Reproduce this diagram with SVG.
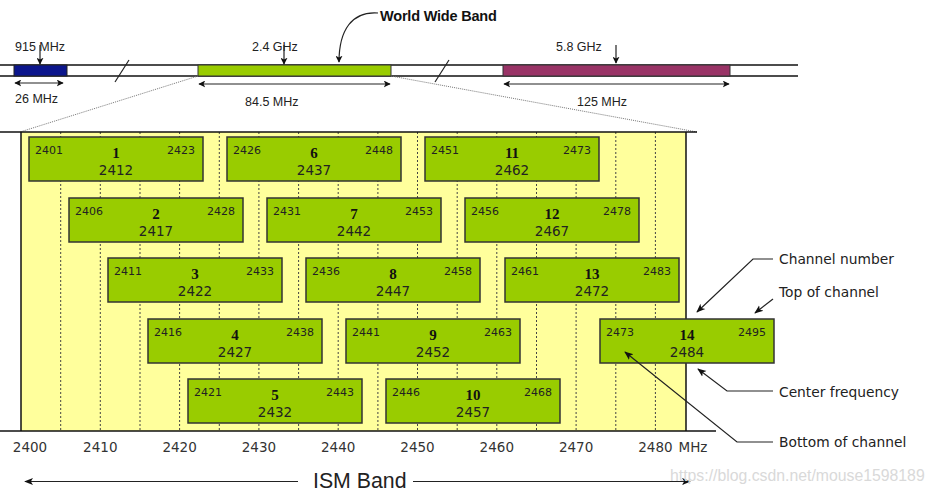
<svg xmlns="http://www.w3.org/2000/svg" width="934" height="492" viewBox="0 0 934 492">
<defs>
<marker id="ah" viewBox="0 0 10 10" refX="9" refY="5" markerWidth="7" markerHeight="7" orient="auto-start-reverse" markerUnits="userSpaceOnUse">
<path d="M0,0 L10,5 L0,10 L2.5,5 z" fill="#111"/>
</marker>
<marker id="ah2" viewBox="0 0 10 10" refX="9" refY="5" markerWidth="9" markerHeight="9" orient="auto-start-reverse" markerUnits="userSpaceOnUse">
<path d="M0,1 L10,5 L0,9 L2.5,5 z" fill="#111"/>
</marker>
<style>
.ln{stroke:#111;stroke-width:1.5;fill:none}
.thin{stroke:#222;stroke-width:1.2;fill:none}
.dot{stroke:#444;stroke-width:1;stroke-dasharray:2,2;fill:none}
.dz{stroke:#777;stroke-width:1;stroke-dasharray:1,1;fill:none}
.box{fill:#99cc00;stroke:#333;stroke-width:1.5}
.sm{font-family:"DejaVu Sans",Verdana,sans-serif;font-size:11px;fill:#222}
.num{font-family:"Liberation Serif","Times New Roman",serif;font-size:15px;font-weight:bold;fill:#111;text-anchor:middle}
.cf{font-family:"DejaVu Sans",Verdana,sans-serif;font-size:13.5px;fill:#222;text-anchor:middle}
.ax{font-family:"DejaVu Sans",Verdana,sans-serif;font-size:13.5px;fill:#333;text-anchor:middle}
.lab{font-family:"Liberation Sans",Arial,sans-serif;font-size:12.5px;fill:#222}
.ann{font-family:"DejaVu Sans",Verdana,sans-serif;font-size:13.8px;fill:#222}
.end{text-anchor:end}
</style>
</defs>
<rect width="934" height="492" fill="#fff"/>

<!-- top spectrum band -->
<g id="spectrum">
<line class="ln" x1="0" y1="65" x2="798" y2="65"/>
<line class="ln" x1="0" y1="76" x2="798" y2="76"/>
<rect x="14" y="65" width="53" height="11" fill="#0c168c" stroke="#222" stroke-width="1"/>
<rect x="198" y="65" width="193" height="11" fill="#99cc00" stroke="#333" stroke-width="1"/>
<rect x="503" y="65" width="227" height="11" fill="#993366" stroke="#333" stroke-width="1"/>
<line class="thin" x1="129" y1="60" x2="115" y2="82"/>
<line class="thin" x1="449" y1="60" x2="435" y2="82"/>
</g>

<g id="label-915">
<text class="lab" x="15" y="51">915 MHz</text>
<line class="thin" x1="40" y1="45" x2="40" y2="64" marker-end="url(#ah)"/>
<line class="thin" x1="15" y1="83" x2="63" y2="83" marker-start="url(#ah)" marker-end="url(#ah)"/>
<text class="lab" x="15" y="103">26 MHz</text>
</g>
<g id="label-24">
<text class="lab" x="252" y="51">2.4 GHz</text>
<line class="thin" x1="284" y1="45" x2="284" y2="64" marker-end="url(#ah)"/>
<line class="thin" x1="199" y1="84" x2="390" y2="84" marker-start="url(#ah)" marker-end="url(#ah)"/>
<text class="lab" x="245" y="106">84.5 MHz</text>
</g>
<g id="label-58">
<text class="lab" x="556" y="51">5.8 GHz</text>
<line class="thin" x1="616" y1="45" x2="616" y2="63" marker-end="url(#ah)"/>
<line class="thin" x1="504" y1="84" x2="729" y2="84" marker-start="url(#ah)" marker-end="url(#ah)"/>
<text class="lab" x="577" y="106">125 MHz</text>
</g>
<g id="world-wide-band">
<text x="380" y="21" font-family="'Liberation Sans',Arial,sans-serif" font-size="14.5px" font-weight="bold" fill="#111" letter-spacing="-0.2">World Wide Band</text>
<path class="thin" d="M378,13 C352,11 339,30 339,62" marker-end="url(#ah)"/>
</g>

<!-- zoom lines -->
<g id="zoom-lines">
<line class="dz" x1="198" y1="76" x2="20" y2="132"/>
<line class="dz" x1="391" y1="76" x2="697" y2="132"/>
</g>

<!-- ISM area -->
<g id="ism-area">
<rect x="21" y="132" width="665" height="299" fill="#ffff9c"/>
<g class="dot">
<line x1="60.7" y1="132" x2="60.7" y2="431"/>
<line x1="100.3" y1="132" x2="100.3" y2="431"/>
<line x1="140" y1="132" x2="140" y2="431"/>
<line x1="179.6" y1="132" x2="179.6" y2="431"/>
<line x1="219.3" y1="132" x2="219.3" y2="431"/>
<line x1="258.9" y1="132" x2="258.9" y2="431"/>
<line x1="298.6" y1="132" x2="298.6" y2="431"/>
<line x1="338.2" y1="132" x2="338.2" y2="431"/>
<line x1="377.9" y1="132" x2="377.9" y2="431"/>
<line x1="417.5" y1="132" x2="417.5" y2="431"/>
<line x1="457.2" y1="132" x2="457.2" y2="431"/>
<line x1="496.8" y1="132" x2="496.8" y2="431"/>
<line x1="536.5" y1="132" x2="536.5" y2="431"/>
<line x1="576.1" y1="132" x2="576.1" y2="431"/>
<line x1="615.8" y1="132" x2="615.8" y2="431"/>
<line x1="655.4" y1="132" x2="655.4" y2="431"/>
</g>
<line class="ln" x1="0" y1="132" x2="697" y2="132"/>
<line class="ln" x1="21" y1="132" x2="21" y2="431"/>
<line class="ln" x1="686" y1="132" x2="686" y2="431"/>
<line class="ln" x1="0" y1="431" x2="716" y2="431"/>
</g>

<!-- channels -->
<g id="ch1" transform="translate(29,137)"><rect class="box" width="174" height="44"/><text class="sm" x="6" y="17">2401</text><text class="sm end" x="166" y="17">2423</text><text class="num" x="87" y="21">1</text><text class="cf" x="87" y="38">2412</text></g>
<g id="ch2" transform="translate(69,198)"><rect class="box" width="174" height="44"/><text class="sm" x="6" y="17">2406</text><text class="sm end" x="166" y="17">2428</text><text class="num" x="87" y="21">2</text><text class="cf" x="87" y="38">2417</text></g>
<g id="ch3" transform="translate(108,258)"><rect class="box" width="174" height="44"/><text class="sm" x="6" y="17">2411</text><text class="sm end" x="166" y="17">2433</text><text class="num" x="87" y="21">3</text><text class="cf" x="87" y="38">2422</text></g>
<g id="ch4" transform="translate(148,319)"><rect class="box" width="174" height="44"/><text class="sm" x="6" y="17">2416</text><text class="sm end" x="166" y="17">2438</text><text class="num" x="87" y="21">4</text><text class="cf" x="87" y="38">2427</text></g>
<g id="ch5" transform="translate(188,379)"><rect class="box" width="174" height="44"/><text class="sm" x="6" y="17">2421</text><text class="sm end" x="166" y="17">2443</text><text class="num" x="87" y="21">5</text><text class="cf" x="87" y="38">2432</text></g>
<g id="ch6" transform="translate(227,137)"><rect class="box" width="174" height="44"/><text class="sm" x="6" y="17">2426</text><text class="sm end" x="166" y="17">2448</text><text class="num" x="87" y="21">6</text><text class="cf" x="87" y="38">2437</text></g>
<g id="ch7" transform="translate(267,198)"><rect class="box" width="174" height="44"/><text class="sm" x="6" y="17">2431</text><text class="sm end" x="166" y="17">2453</text><text class="num" x="87" y="21">7</text><text class="cf" x="87" y="38">2442</text></g>
<g id="ch8" transform="translate(306,258)"><rect class="box" width="174" height="44"/><text class="sm" x="6" y="17">2436</text><text class="sm end" x="166" y="17">2458</text><text class="num" x="87" y="21">8</text><text class="cf" x="87" y="38">2447</text></g>
<g id="ch9" transform="translate(346,319)"><rect class="box" width="174" height="44"/><text class="sm" x="6" y="17">2441</text><text class="sm end" x="166" y="17">2463</text><text class="num" x="87" y="21">9</text><text class="cf" x="87" y="38">2452</text></g>
<g id="ch10" transform="translate(386,379)"><rect class="box" width="174" height="44"/><text class="sm" x="6" y="17">2446</text><text class="sm end" x="166" y="17">2468</text><text class="num" x="87" y="21">10</text><text class="cf" x="87" y="38">2457</text></g>
<g id="ch11" transform="translate(425,137)"><rect class="box" width="174" height="44"/><text class="sm" x="6" y="17">2451</text><text class="sm end" x="166" y="17">2473</text><text class="num" x="87" y="21">11</text><text class="cf" x="87" y="38">2462</text></g>
<g id="ch12" transform="translate(465,198)"><rect class="box" width="174" height="44"/><text class="sm" x="6" y="17">2456</text><text class="sm end" x="166" y="17">2478</text><text class="num" x="87" y="21">12</text><text class="cf" x="87" y="38">2467</text></g>
<g id="ch13" transform="translate(505,258)"><rect class="box" width="174" height="44"/><text class="sm" x="6" y="17">2461</text><text class="sm end" x="166" y="17">2483</text><text class="num" x="87" y="21">13</text><text class="cf" x="87" y="38">2472</text></g>
<g id="ch14" transform="translate(600,319)"><rect class="box" width="174" height="44"/><text class="sm" x="6" y="17">2473</text><text class="sm end" x="166" y="17">2495</text><text class="num" x="87" y="21">14</text><text class="cf" x="87" y="38">2484</text></g>

<!-- axis -->
<g id="axis">
<text class="ax" x="30" y="452">2400</text>
<text class="ax" x="100.3" y="452">2410</text>
<text class="ax" x="179.6" y="452">2420</text>
<text class="ax" x="258.9" y="452">2430</text>
<text class="ax" x="338.2" y="452">2440</text>
<text class="ax" x="417.5" y="452">2450</text>
<text class="ax" x="496.8" y="452">2460</text>
<text class="ax" x="576.1" y="452">2470</text>
<text class="ax" x="655.4" y="452">2480</text>
<text class="ax" x="693" y="452" text-anchor="start">MHz</text>
</g>

<g id="ism-band">
<text x="313" y="488" font-family="'Liberation Sans',Arial,sans-serif" font-size="21.3px" fill="#222">ISM Band</text>
<line class="thin" x1="298" y1="481.5" x2="25" y2="481.5" marker-end="url(#ah2)"/>
<line class="thin" x1="413" y1="481.5" x2="690" y2="481.5" marker-end="url(#ah2)"/>
</g>

<!-- annotations -->
<g id="annotations">
<text class="ann" x="779" y="264">Channel number</text>
<text class="ann" x="779" y="297">Top of channel</text>
<text class="ann" x="779" y="397">Center frequency</text>
<text class="ann" x="779" y="447">Bottom of channel</text>
</g>
<g id="connectors">
<polyline class="thin" points="773,259 753,259 697,312" marker-end="url(#ah2)"/>
<line class="thin" x1="773" y1="299" x2="755" y2="313" marker-end="url(#ah2)"/>
<polyline class="thin" points="773,391 727,391 698,369" marker-end="url(#ah2)"/>
<polyline class="thin" points="773,442 737,442 625,352" marker-end="url(#ah2)"/>
</g>

<text x="670" y="481" font-family="'Liberation Sans',Arial,sans-serif" font-size="15.8px" fill="#d9d9d9">https://blog.csdn.net/mouse1598189</text>
</svg>
